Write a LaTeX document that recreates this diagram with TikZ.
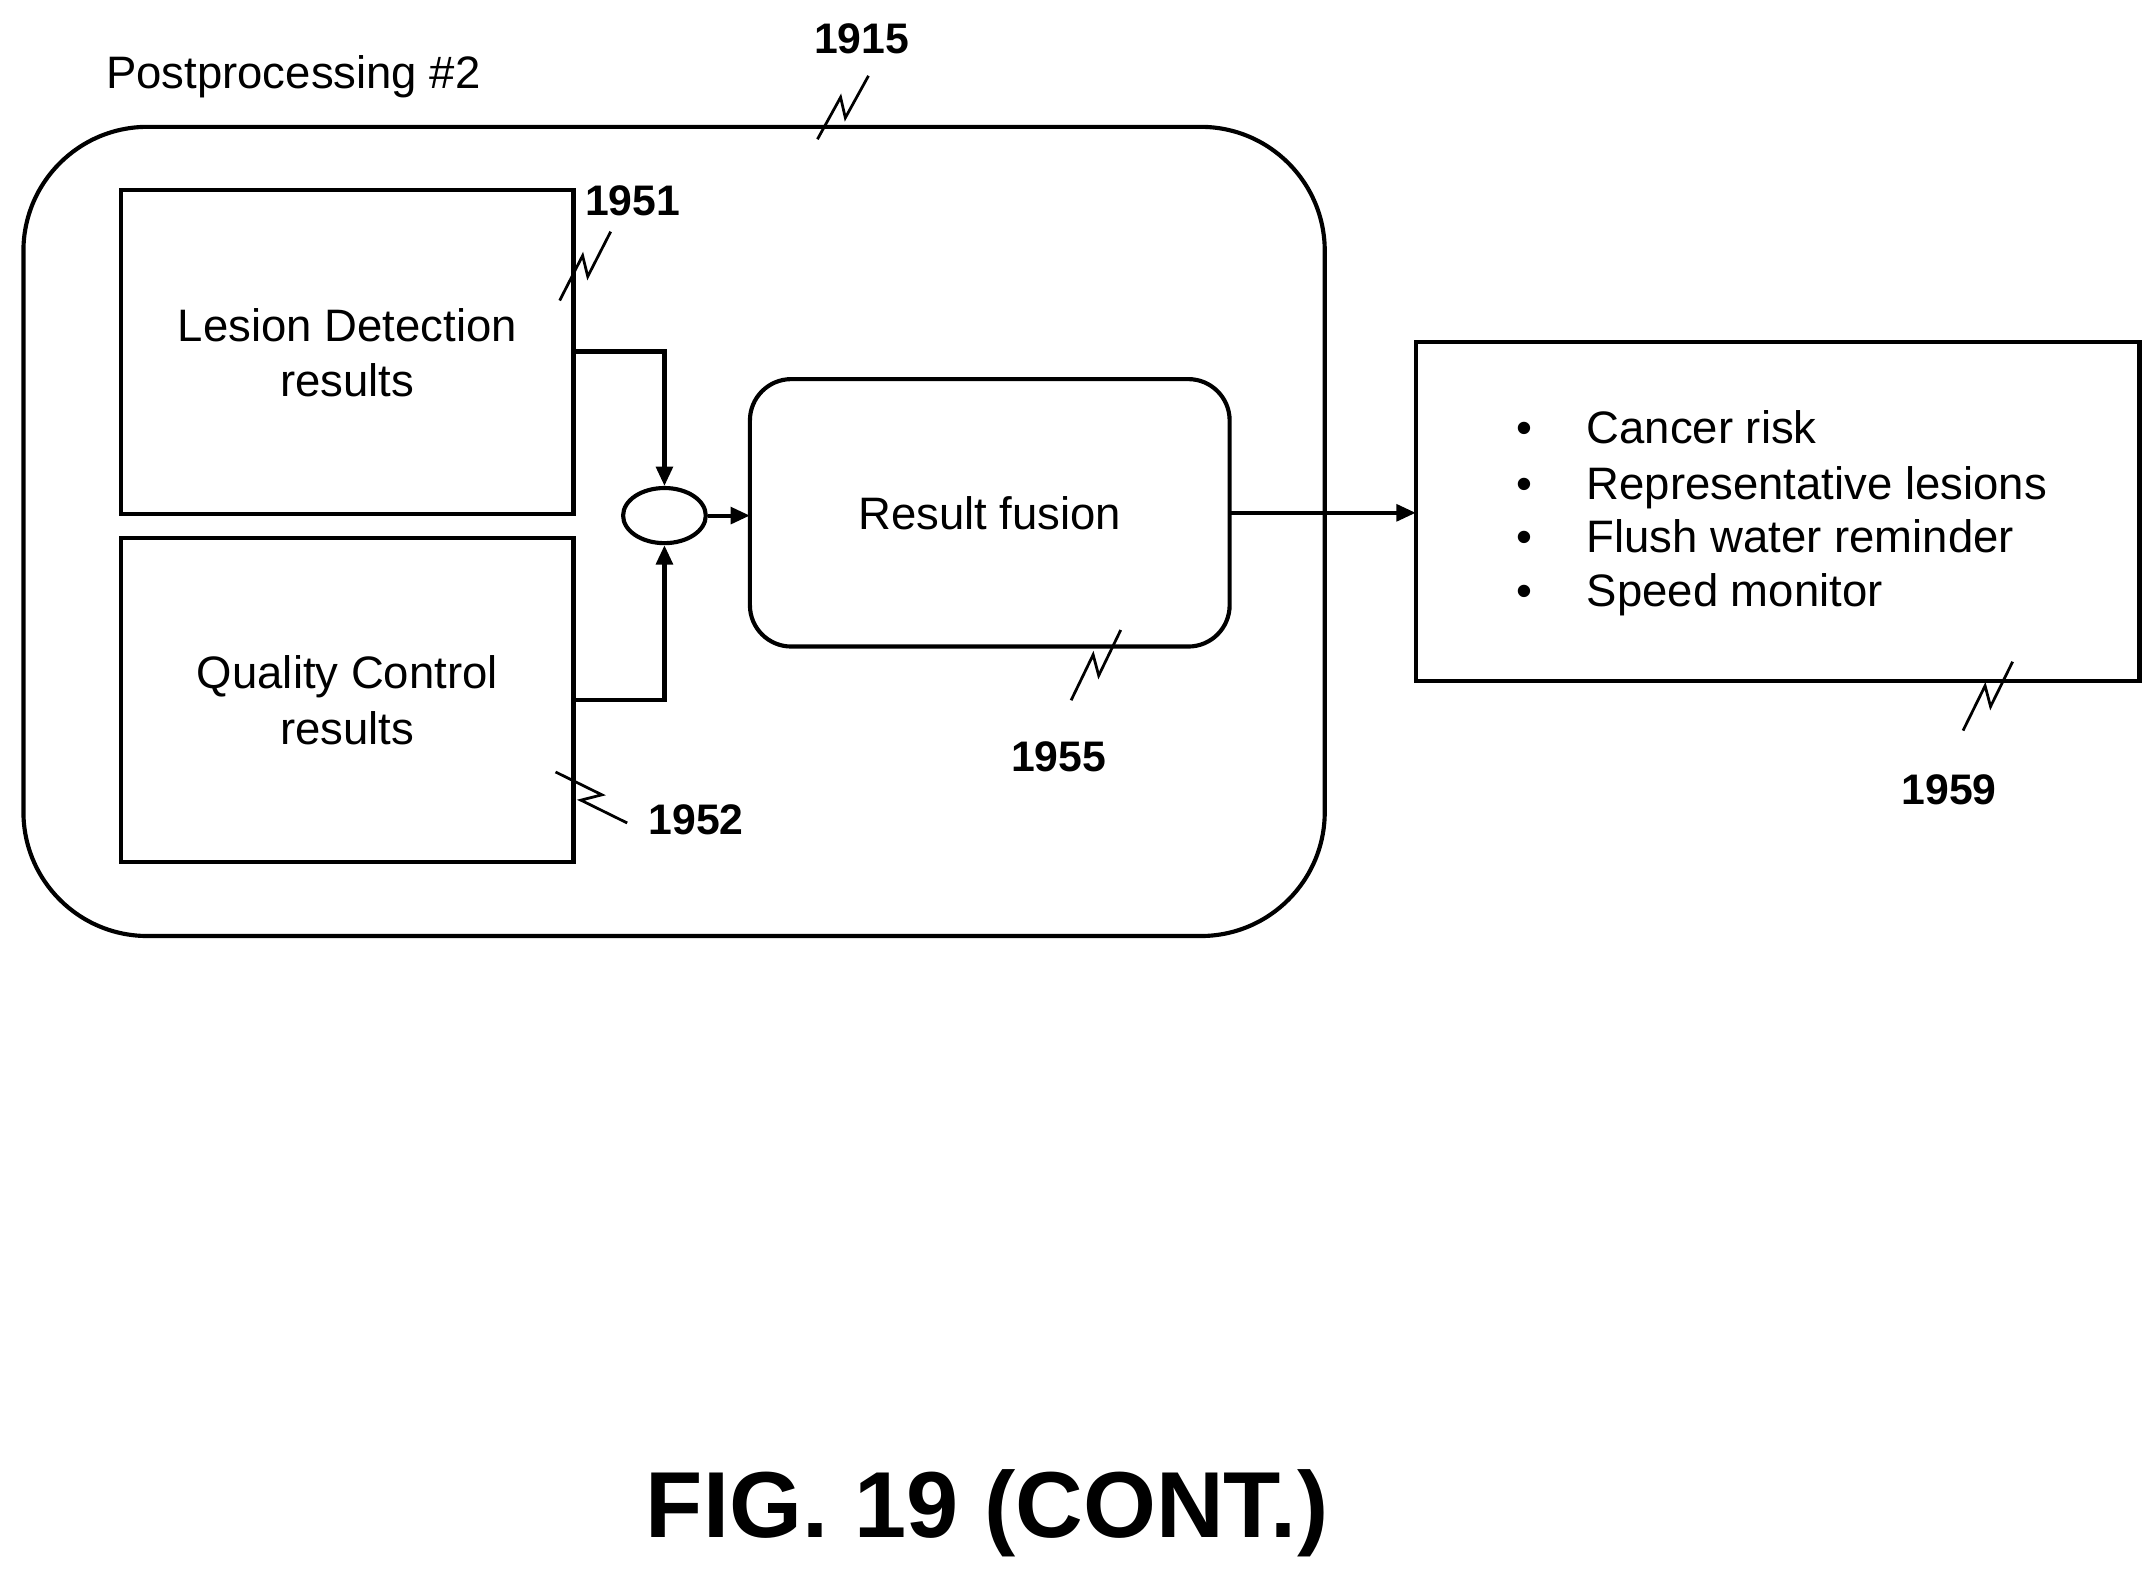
\documentclass[tikz,border=0pt]{standalone}
\usepackage{fontspec}
\setmainfont{Liberation Sans}
\usetikzlibrary{calc,arrows.meta,shapes.geometric}
\newcommand{\zzlead}[2]{\draw[lead] (#1) -- ($(#1)!0.58!(#2)!3pt!90:(#2)$) -- ($(#1)!0.42!(#2)!3pt!-90:(#2)$) -- (#2);}
\begin{document}
\begin{tikzpicture}[x=0.5pt,y=-0.5pt,
  box/.style={draw,line width=1.5pt},
  lead/.style={line width=1pt},
  arr/.style={line width=1.5pt,-{Triangle[length=7pt,width=6pt]}},
  txt/.style={font=\fontsize{16.5}{20}\selectfont,align=center},
  num/.style={font=\bfseries\fontsize{15.5}{18}\selectfont}]
\useasboundingbox (0,0) rectangle (1564,1148);
\draw[box,rounded corners=45pt] (17,92) rectangle (961,679);
\node[txt,anchor=west] (pp) at (70,56) {Postprocessing \#2};
\draw[box] (88,138) rectangle (416,373);
\node[txt] (ld) at (252,256) {Lesion Detection\\results};
\draw[box] (88,390) rectangle (416,625);
\node[txt] (qc) at (252,508) {Quality Control\\results};
\node[draw,line width=1.5pt,ellipse,minimum width=30pt,minimum height=20pt,inner sep=0] (el) at (482,374) {};
\draw[box,rounded corners=15pt] (544,275) rectangle (892,469);
\node[txt] (rf) at (718,372) {Result fusion};
\draw[box] (1027,248) rectangle (1552,494);
\coordinate (ldr) at (416,255);
\coordinate (qcr) at (416,508);
\coordinate (rfl) at (544,374);
\coordinate (rfr) at (892,372);
\coordinate (outl) at (1027,372);
\draw[arr] (ldr) -| (el.north);
\draw[arr] (qcr) -| (el.south);
\draw[arr] (el.east) -- (rfl);
\draw[arr] (rfr) -- (outl);
\foreach \y/\t [count=\i] in {313/Cancer risk,353/Representative lesions,392/Flush water reminder,431/Speed monitor}{
  \node[txt,text height=12pt,text depth=3pt] (b\i) at (1106,\y) {•};
  \node[txt,anchor=west,text height=12pt,text depth=3pt] (t\i) at (1144,\y) {\t};
}
\node[num] (n1915) at (625,28) {1915};
\node[num] (n1951) at (459,146) {1951};
\node[num] (n1952) at (505,595) {1952};
\node[num] (n1955) at (768,549) {1955};
\node[num] (n1959) at (1414,573) {1959};
\coordinate (a1) at (593,101); \coordinate (b1) at (630,55);
\coordinate (a2) at (406,218); \coordinate (b2) at (443,168);
\coordinate (a3) at (403,560); \coordinate (b3) at (455,597);
\coordinate (a4) at (777,508); \coordinate (b4) at (813,457);
\coordinate (a5) at (1424,530); \coordinate (b5) at (1460,480);
\zzlead{a1}{b1}\zzlead{a2}{b2}\zzlead{a3}{b3}\zzlead{a4}{b4}\zzlead{a5}{b5}
\node[font=\bfseries\fontsize{34}{40}\selectfont] (fig) at (716,1098) {FIG. 19 (CONT.)};
\end{tikzpicture}
\end{document}
